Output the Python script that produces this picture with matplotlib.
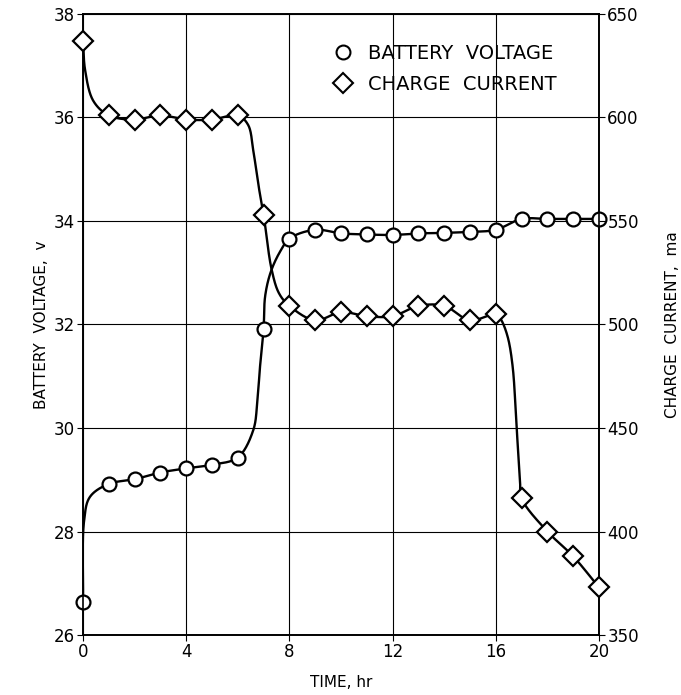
import numpy as np
import matplotlib.pyplot as plt
from matplotlib.lines import Line2D

plt.rcParams['font.family'] = ['DejaVu Sans']

# measured points (hourly readings)
time_hr = np.arange(0, 21)
battery_v = [26.63, 28.92, 29.01, 29.14, 29.22, 29.29, 29.43, 31.92, 33.66, 33.83, 33.76,
             33.74, 33.73, 33.76, 33.77, 33.79, 33.83, 34.04, 34.04, 34.04, 34.04]
charge_ma = [637, 601, 599, 601, 599, 599, 601, 553, 509, 502, 506,
             504, 504, 509, 509, 502, 505, 416, 400, 388, 373]

# extra points along the faired curves between readings
volt_curve_t = [0.04, 0.27, 6.6, 6.76, 6.86, 7.06, 7.28, 7.64]
volt_curve_v = [28.2, 28.67, 29.96, 30.54, 31.18, 32.55, 33.02, 33.41]
curr_curve_t = [0.08, 0.4, 6.4, 6.6, 6.79, 7.31, 7.6, 16.19, 16.45, 16.65, 16.81, 16.94]
curr_curve_i = [623, 608, 596.4, 584, 568, 526.6, 515, 502.6, 494.5, 480, 449.4, 425]


def catmull_rom(px, py, n=40, alpha=0.5):
    # centripetal Catmull-Rom through the points, a smooth hand-faired line
    P = np.column_stack([px, py]).astype(float)
    P = np.vstack([2 * P[0] - P[1], P, 2 * P[-1] - P[-2]])
    out = []
    for i in range(1, len(P) - 2):
        p0, p1, p2, p3 = P[i - 1], P[i], P[i + 1], P[i + 2]
        t0 = 0.0
        t1 = t0 + np.linalg.norm(p1 - p0) ** alpha
        t2 = t1 + np.linalg.norm(p2 - p1) ** alpha
        t3 = t2 + np.linalg.norm(p3 - p2) ** alpha
        t = np.linspace(t1, t2, n)[:, None]
        a1 = (t1 - t) / (t1 - t0) * p0 + (t - t0) / (t1 - t0) * p1
        a2 = (t2 - t) / (t2 - t1) * p1 + (t - t1) / (t2 - t1) * p2
        a3 = (t3 - t) / (t3 - t2) * p2 + (t - t2) / (t3 - t2) * p3
        b1 = (t2 - t) / (t2 - t0) * a1 + (t - t0) / (t2 - t0) * a2
        b2 = (t3 - t) / (t3 - t1) * a2 + (t - t1) / (t3 - t1) * a3
        c = (t2 - t) / (t2 - t1) * b1 + (t - t1) / (t2 - t1) * b2
        out.append(c)
    return np.vstack(out)


def faired(tx, ty, ex, ey, sx, sy):
    xs = np.concatenate([tx, ex])
    ys = np.concatenate([ty, ey])
    order = np.argsort(xs)
    # work in roughly equal pixel units so the curve bends like the drawing
    c = catmull_rom(xs[order] * sx, ys[order] * sy)
    return c[:, 0] / sx, c[:, 1] / sy


fig = plt.figure(figsize=(6.81, 6.95), dpi=100)
ax = fig.add_axes([0.1219, 0.0863, 0.7577, 0.8936])
ax2 = ax.twinx()

vt, vv = faired(time_hr, battery_v, volt_curve_t, volt_curve_v, 25.8, 51.75)
ct, ci = faired(time_hr, charge_ma, curr_curve_t, curr_curve_i, 25.8, 2.07)

ax.plot(vt, vv, color='black', lw=1.7, zorder=3)
ax.plot(time_hr, battery_v, 'o', ms=10, mfc='white', mec='black', mew=1.6, zorder=4,
        clip_on=False)
ax2.plot(ct, ci, color='black', lw=1.7, zorder=3)
ax2.plot(time_hr, charge_ma, 'D', ms=10, mfc='white', mec='black', mew=1.6, zorder=4,
         clip_on=False)

ax.set_xlim(0, 20)
ax.set_ylim(26, 38)
ax2.set_ylim(350, 650)
ax.set_xticks([0, 4, 8, 12, 16, 20])
ax.set_yticks(np.arange(26, 39, 2))
ax2.set_yticks(np.arange(350, 651, 50))
ax.grid(True, color='black', lw=0.8)

for a in (ax, ax2):
    a.tick_params(labelsize=12, length=4, width=0.8, pad=2)
    for s in a.spines.values():
        s.set_linewidth(1.2)

ax.set_xlabel('TIME, hr', fontsize=11, labelpad=10)
ax.set_ylabel('BATTERY  VOLTAGE,  v', fontsize=11, labelpad=3)
ax2.set_ylabel('CHARGE  CURRENT,  ma', fontsize=11, labelpad=19)

handles = [
    Line2D([], [], ls='none', marker='o', ms=10, mfc='white', mec='black', mew=1.5),
    Line2D([], [], ls='none', marker='D', ms=10, mfc='white', mec='black', mew=1.5),
]
ax2.legend(handles, ['BATTERY  VOLTAGE', 'CHARGE  CURRENT'], loc='upper left',
           bbox_to_anchor=(0.452, 0.98), frameon=False, fontsize=14,
           handlelength=1.0, handletextpad=0.78, labelspacing=0.6)

fig.savefig('out.png', dpi=100)
